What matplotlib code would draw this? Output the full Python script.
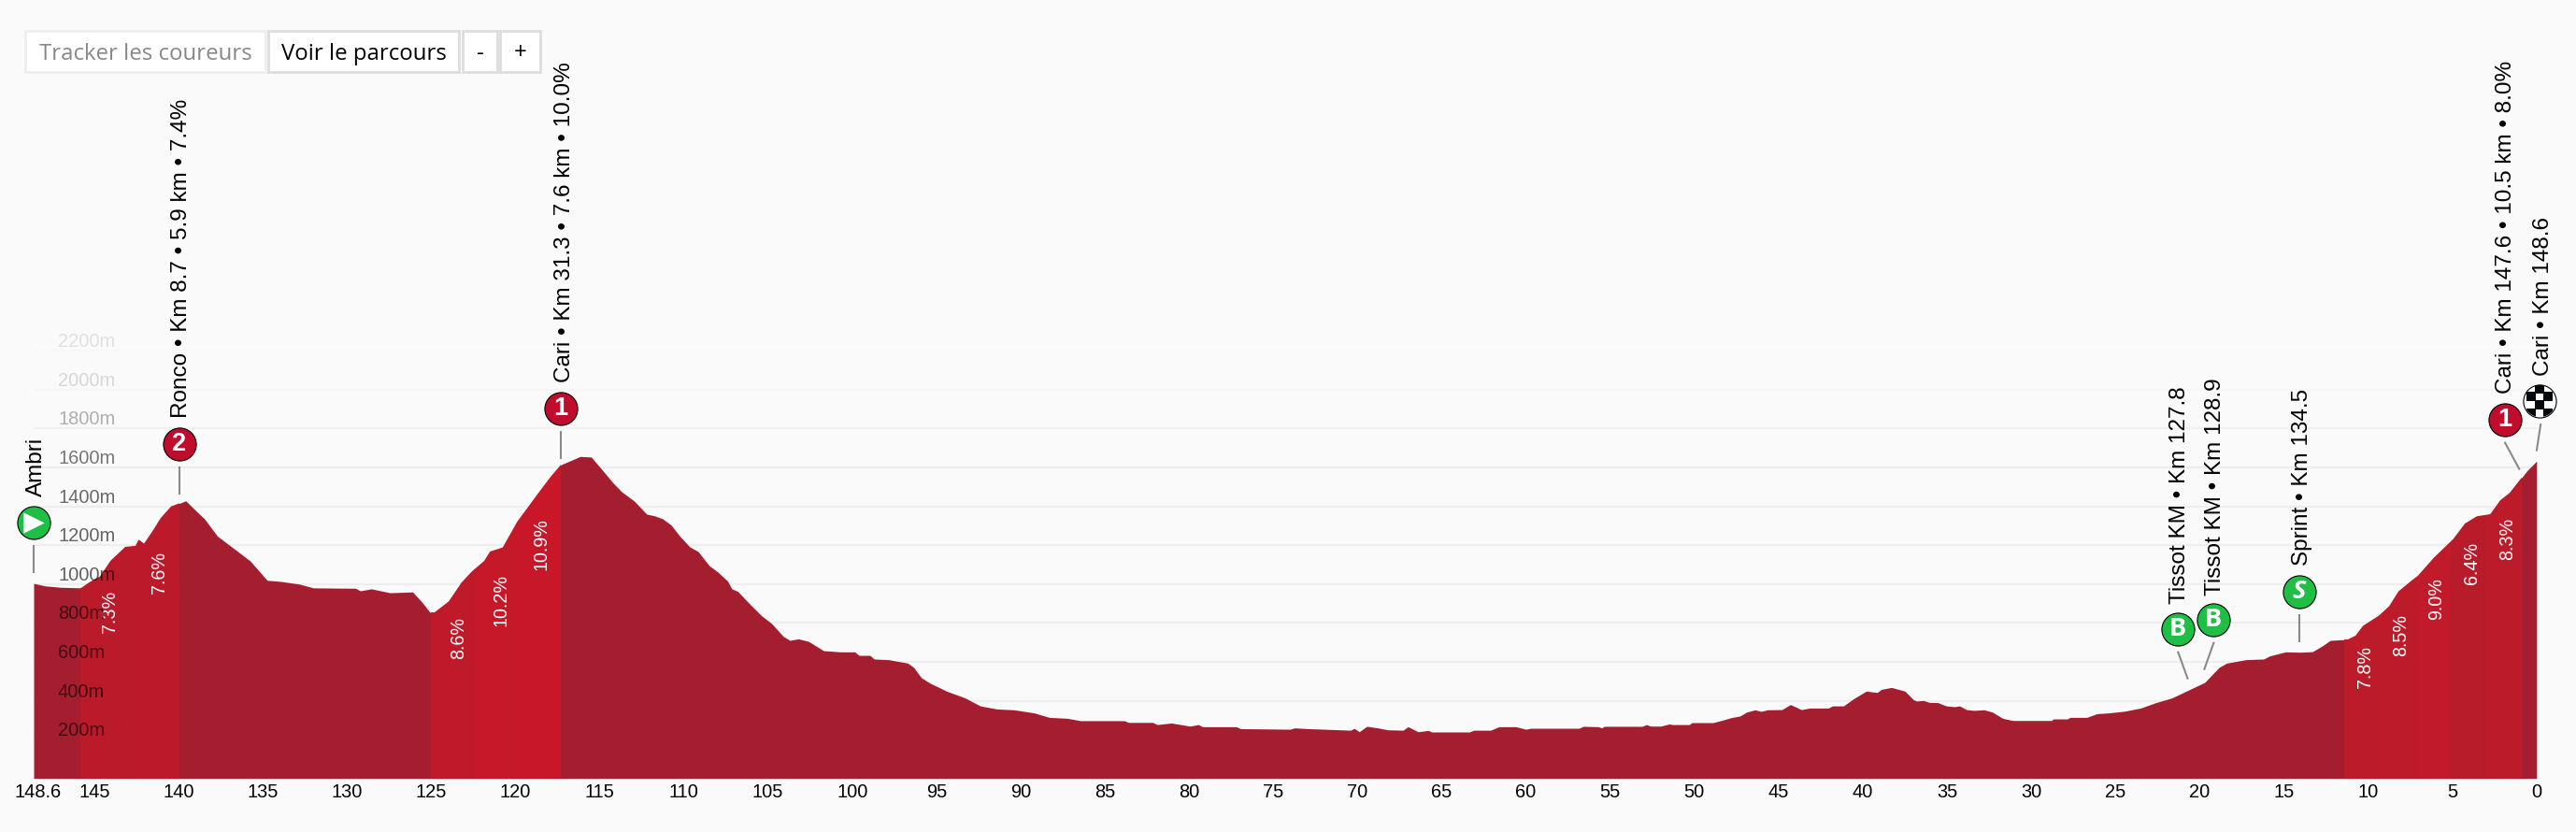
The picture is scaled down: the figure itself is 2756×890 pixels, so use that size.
import matplotlib
matplotlib.use("Agg")
import matplotlib.pyplot as plt
from matplotlib.patches import Rectangle, Ellipse
from matplotlib.transforms import ScaledTranslation

W, H = 2756, 890

# profile (km to go, metres)
km = [148.6, 147.9, 147, 145.77, 145.27, 144.66, 144.04, 143.16, 142.55, 142.37, 142.05, 141.55, 141.05, 140.44,
      139.94, 139.57, 138.95, 138.46, 137.7, 136.97, 135.75, 134.74, 133.9, 132.8, 132, 129.5, 129.2, 128.55,
      127.45, 126.1, 125.55, 125.07, 124.8, 123.96, 123.2, 122.6, 121.85, 121.5, 120.75, 119.9, 118.6, 117.9,
      117.3, 116.15, 115.5, 114.9, 114.2, 113.7, 112.95, 112.2, 111.75, 111.25, 110.75, 110.25, 109.65, 109.15,
      108.5, 108, 107.4, 107.15, 106.8, 106.05, 105.4, 104.8, 104.1, 103.7, 103.2, 102.6, 101.7, 100.7,
      99.85, 99.6, 98.95, 98.7, 97.85, 96.7, 96.35, 95.9, 95.4, 94.4, 93.3, 92.4, 91.4, 90.4,
      89.2, 88.3, 87.2, 86.45, 83.85, 83.6, 82.15, 81.9, 81.05, 79.95, 79.45, 79.2, 77.2, 76.95,
      74, 73.75, 72.9, 70.4, 70.2, 69.9, 69.45, 68.8, 68.2, 67.3, 67, 66.4, 65.8, 65.6,
      63.35, 63.1, 62.1, 61.6, 60.6, 60, 59.7, 56.85, 56.6, 55.7, 55.5, 55.35, 53.1, 52.85,
      52.6, 52, 51.5, 51.3, 50.3, 50.15, 48.9, 48.4, 47.8, 47.3, 46.9, 46.4, 46.05, 45.65,
      44.8, 44.3, 43.65, 43.15, 42.05, 41.8, 41.15, 40.55, 39.8, 39.15, 38.9, 38.3, 37.5, 37,
      36.8, 36.4, 36.05, 35.55, 35.05, 34.55, 34.25, 33.85, 33.4, 32.8, 32.3, 31.7, 31.1, 28.8,
      28.7, 27.85, 27.7, 26.7, 26.1, 25.4, 24.45, 23.5, 22.6, 21.65, 20.75, 19.7, 18.85, 18.4,
      17.25, 16.2, 15.85, 14.9, 14, 13.3, 12.7, 12.25, 11.2, 10.75, 10.3, 9.35, 8.75, 8.2,
      7.4, 7.05, 6.1, 4.95, 4.25, 3.55, 2.75, 2.15, 1.6, 0.55, 0]
elev = [1003, 990, 983, 980, 1010, 1039, 1119, 1191, 1196, 1228, 1207, 1271, 1340, 1399,
        1415, 1428, 1375, 1335, 1247, 1199, 1119, 1019, 1013, 999, 980, 978, 965, 975,
        955, 959, 907, 854, 854, 910, 1007, 1063, 1119, 1167, 1188, 1319, 1472, 1552,
        1613, 1656, 1653, 1592, 1520, 1475, 1427, 1359, 1351, 1335, 1303, 1247, 1191, 1167,
        1095, 1063, 1015, 975, 962, 894, 838, 798, 731, 710, 718, 705, 657, 651,
        651, 633, 633, 614, 611, 593, 571, 518, 491, 449, 414, 373, 357, 353,
        337, 314, 309, 297, 297, 288, 288, 277, 285, 269, 277, 266, 266, 256,
        253, 260, 256, 248, 258, 240, 268, 260, 250, 248, 266, 240, 247, 239,
        239, 248, 248, 266, 266, 253, 258, 258, 268, 266, 260, 268, 268, 277,
        269, 269, 280, 277, 277, 287, 287, 298, 313, 321, 341, 353, 345, 353,
        354, 380, 354, 362, 362, 373, 373, 410, 449, 442, 458, 468, 449, 405,
        398, 401, 391, 390, 373, 369, 373, 354, 350, 353, 341, 309, 298, 298,
        306, 306, 314, 314, 333, 337, 346, 362, 390, 414, 451, 494, 571, 593,
        611, 614, 630, 651, 649, 652, 683, 710, 715, 734, 785, 838, 886, 962,
        1019, 1042, 1135, 1231, 1311, 1348, 1359, 1431, 1468, 1584, 1632]

km_ticks = [148.6] + list(range(145, -1, -5))
km_tick_labels = ["148.6"] + [str(k) for k in range(145, -1, -5)]

grid_levels = [200, 400, 600, 800, 1000, 1200, 1400, 1600, 1800, 2000, 2200]
grid_labels = ["200m", "400m", "600m", "800m", "1000m", "1200m", "1400m", "1600m", "1800m", "2000m", "2200m"]
grid_label_alpha = [.62, .62, .62, .62, .62, .6, .58, .53, .3, .14, .1]
grid_line_colors = ["#eeeeee"] * 8 + ["#f1f1f1", "#f6f6f6", "#f8f8f8"]

# steep parts
seg_start = [145.84, 142.7, 125, 122.3, 120, 11.4, 9.3, 7.1, 5.1, 3]
seg_end = [142.7, 139.94, 122.3, 120, 117.3, 9.3, 7.1, 5.1, 3, 0.9]
seg_colors = ["#bb1a2a", "#bc1a2a", "#c01a2a", "#c5192a", "#c81728", "#bc1b2a", "#be1b2a", "#c11a2a", "#b81c2a", "#bc1b2a"]
grade_labels = ["7.3%", "7.6%", "8.6%", "10.2%", "10.9%", "7.8%", "8.5%", "9.0%", "6.4%", "8.3%"]
grade_km = [144.05, 141.15, 123.35, 120.85, 118.45, 10.15, 8.05, 5.95, 3.82, 1.75]
grade_y = [859, 1061, 724, 917, 1205, 571, 735, 926, 1109, 1234]

# markers: circle position, leader line, rotated text
badge_text = [">", "2", "1", "B", "B", "S", "1", "flag"]
badge_colors = ["#1fbe44", "#c00d2e", "#c00d2e", "#1fbe44", "#1fbe44", "#1fbe44", "#c00d2e", "white"]
badge_km = [148.6, 139.94, 117.31, 21.3, 19.2, 14.1, 1.9, -0.2]
badge_y = [1316, 1720, 1902, 769, 817, 961, 1845, 1941]
leader_km0 = [148.6, 139.94, 117.31, 21.3, 19.15, 14.1, 1.9, -0.25]
leader_y0 = [1200, 1604, 1787, 654, 702, 846, 1731, 1825]
leader_km1 = [148.6, 139.94, 117.31, 20.7, 19.74, 14.1, 1.0, 0]
leader_y1 = [1058, 1460, 1643, 510, 558, 702, 1587, 1683]
label_text = ["Ambri", "Ronco • Km 8.7 • 5.9 km • 7.4%", "Cari • Km 31.3 • 7.6 km • 10.0%", "Tissot KM • Km 127.8",
              "Tissot KM • Km 128.9", "Sprint • Km 134.5", "Cari • Km 147.6 • 10.5 km • 8.0%", "Cari • Km 148.6"]
label_km = [148.45, 139.84, 117.1, 21.2, 19.1, 13.94, 1.8, -0.4]
label_y = [1450, 1854, 2037, 897, 940, 1094, 1979, 2070]

# flag squares, km and metre offsets from the badge centre
flag_dx = [0, -0.5, 0.5, 0, -0.5, 0.5]
flag_dy = [60, 22, 22, -20, -62, -62]

buttons = ["Tracker les coureurs", "Voir le parcours", "-", "+"]
button_left = [27, 287, 495, 535]
button_right = [284, 491, 532, 578]
button_text_color = ["#888888", "#000000", "#000000", "#000000"]
button_edge = ["#eeeeee", "#dddddd", "#dddddd", "#dddddd"]

plt.rcParams['font.family'] = ['Liberation Sans', 'DejaVu Sans']

fig = plt.figure(figsize=(W / 100, H / 100), dpi=100, facecolor="#fafafa")
ax = fig.add_axes([36 / W, (H - 832.7) / H, (2713.8 - 36) / W, 499.2 / H])
ax.set_xlim(148.6, 0)
ax.set_ylim(0, 2400)
ax.set_facecolor("none")
for s in ax.spines.values():
    s.set_visible(False)

for lev, c in zip(grid_levels, grid_line_colors):
    ax.axhline(lev, color=c, lw=1.6, zorder=1)

area = ax.fill_between(km, elev, 0, color="#a51e2f", lw=0, zorder=2)
clip = area.get_paths()[0]
for a, b, c in zip(seg_start, seg_end, seg_colors):
    sp = ax.axvspan(a, b, color=c, lw=0, zorder=3)
    sp.set_clip_path(clip, ax.transData)

for k, y, t in zip(grade_km, grade_y, grade_labels):
    ax.text(k, y, t, color="white", fontsize=14.2, rotation=90, ha="center", va="center", zorder=4)

for lev, t, al in zip(grid_levels, grid_labels, grid_label_alpha):
    ax.annotate(t, (0, lev), xycoords=("axes fraction", "data"), xytext=(62 - 36, 0), textcoords="offset pixels",
                color="black", alpha=al, fontsize=14.4, ha="left", va="bottom", zorder=5)

ax.set_xticks(km_ticks)
ax.set_xticklabels(km_tick_labels, fontsize=14.4, color="black")
ax.set_yticks([])
ax.tick_params(axis="x", length=0, pad=3.5)
# first label sits a bit right of its tick
first = ax.get_xticklabels()[0]
first.set_transform(first.get_transform() + ScaledTranslation(5 / 100, 0, fig.dpi_scale_trans))

for a, b, c, d in zip(leader_km0, leader_y0, leader_km1, leader_y1):
    ax.plot([a, c], [b, d], color="#8a8a8a", lw=1.5, clip_on=False, zorder=5, solid_capstyle="butt")

for k, y, t, c in zip(badge_km, badge_y, badge_text, badge_colors):
    ax.scatter([k], [y], s=640, color=c, edgecolor="black", linewidth=0.8, clip_on=False, zorder=6)
    if t == ">":
        ax.scatter([k], [y], s=260, marker=">", color="white", lw=0, clip_on=False, zorder=7)
    elif t == "flag":
        disc = Ellipse((k, y), 1.9, 165, transform=ax.transData, facecolor="none", edgecolor="none")
        ax.add_patch(disc)
        disc.set_clip_on(False)
        sq = ax.scatter([k + d for d in flag_dx], [y + d for d in flag_dy], s=44, marker="s", color="#05080a",
                        lw=0, zorder=7)
        sq.set_clip_path(disc)
    else:
        italic = "italic" if t == "S" else "normal"
        ax.text(k, y, t, color="white", fontsize=19.5 if t in "12" else 19.5, fontweight="bold", ha="center", va="center",
                family="Open Sans" if t in "BS" else "Liberation Sans", style=italic, clip_on=False, zorder=7)

for k, y, t in zip(label_km, label_y, label_text):
    ax.text(k, y, t, color="black", fontsize=17.5, rotation=90, ha="center", va="bottom", clip_on=False, zorder=6)

# buttons on top left, figure pixels
for l, r, t, tc, ec in zip(button_left, button_right, buttons, button_text_color, button_edge):
    fig.add_artist(Rectangle((l / W, 1 - 77 / H), (r - l) / W, 44 / H, transform=fig.transFigure,
                             facecolor="white", edgecolor=ec, lw=2))
    fig.text((l + r) / 2 / W, 1 - 57.5 / H, t, color=tc, fontsize=17.3, ha="center", va="center", family="Open Sans")

fig.savefig("out.png", dpi=100, facecolor=fig.get_facecolor())
